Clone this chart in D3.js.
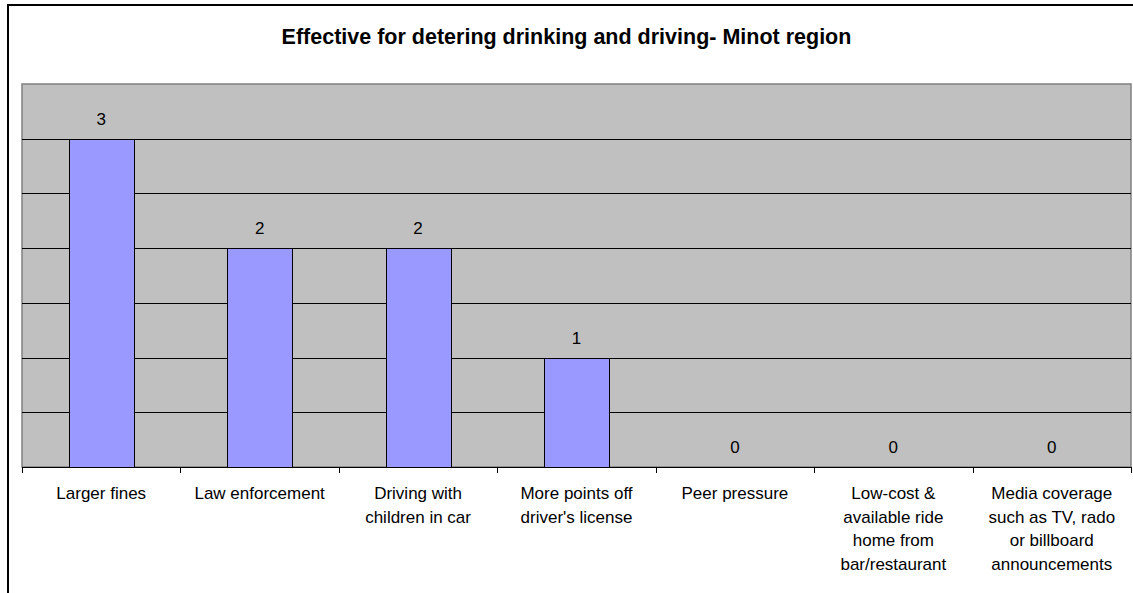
<!DOCTYPE html>
<html><head><meta charset="utf-8">
<script src="https://cdn.jsdelivr.net/npm/d3@7"></script>
<style>html,body{margin:0;padding:0;background:#fff;}svg{display:block;font-family:"Liberation Sans",Arial,sans-serif;}</style>
</head><body>
<script>
const title = "Effective for detering drinking and driving- Minot region";
const categories = [
  "Larger fines",
  "Law enforcement",
  "Driving with\nchildren in car",
  "More points off\ndriver's license",
  "Peer pressure",
  "Low-cost &\navailable ride\nhome from\nbar/restaurant",
  "Media coverage\nsuch as TV, rado\nor billboard\nannouncements"
];
const values = [3, 2, 2, 1, 0, 0, 0];
const yMax = 3.5;
const gridTicks = [0.5, 1, 1.5, 2, 2.5, 3];

const W = 1133, H = 593;
const plot = {left: 22, top: 84, right: 1131, bottom: 467};

const svg = d3.select("body").append("svg").attr("width", W).attr("height", H);

// outer chart border
svg.append("rect").attr("x", 8).attr("y", 5).attr("width", W + 20).attr("height", H + 20)
  .attr("fill", "#fff").attr("stroke", "#000").attr("stroke-width", 2);

svg.append("text").attr("x", W / 2).attr("y", 44).attr("text-anchor", "middle")
  .attr("font-size", 21.5).attr("font-weight", "bold").attr("fill", "#000").text(title);

const x = d3.scaleBand().domain(categories).range([plot.left, plot.right])
  .paddingInner(0.59).paddingOuter(0.295);
const y = d3.scaleLinear().domain([0, yMax]).range([plot.bottom, plot.top]);

// plot area
svg.append("rect").attr("x", plot.left).attr("y", plot.top)
  .attr("width", plot.right - plot.left).attr("height", plot.bottom - plot.top)
  .attr("fill", "#C0C0C0").attr("stroke", "#808080").attr("stroke-width", 1.5);

// gridlines
svg.append("g").selectAll("line").data(gridTicks).join("line")
  .attr("x1", plot.left).attr("x2", plot.right)
  .attr("y1", d => Math.round(y(d)) + 0.5).attr("y2", d => Math.round(y(d)) + 0.5)
  .attr("stroke", "#000").attr("stroke-width", 1);

// bars
svg.append("g").selectAll("rect").data(values).join("rect")
  .attr("x", (d, i) => Math.round(x(categories[i])) + 0.5)
  .attr("y", d => Math.round(y(d)) + 0.5)
  .attr("width", Math.round(x.bandwidth()))
  .attr("height", d => Math.round(y(0)) - Math.round(y(d)))
  .attr("fill", "#9999FF").attr("stroke", "#000").attr("stroke-width", 1)
  .style("display", d => d > 0 ? null : "none");

// data labels
svg.append("g").selectAll("text").data(values).join("text")
  .attr("x", (d, i) => x(categories[i]) + x.bandwidth() / 2)
  .attr("y", d => y(d) - 14)
  .attr("text-anchor", "middle").attr("font-size", 17).attr("fill", "#000")
  .text(d => d);

// x axis
const step = x.step();
const boundaries = d3.range(categories.length + 1).map(i => plot.left + i * step);
svg.append("line").attr("x1", plot.left).attr("x2", plot.right)
  .attr("y1", plot.bottom + 0.5).attr("y2", plot.bottom + 0.5).attr("stroke", "#000").attr("stroke-width", 1);
svg.append("g").selectAll("line").data(boundaries).join("line")
  .attr("x1", d => Math.round(d) + 0.5).attr("x2", d => Math.round(d) + 0.5)
  .attr("y1", plot.bottom).attr("y2", plot.bottom + 6)
  .attr("stroke", "#000").attr("stroke-width", 1);

const lab = svg.append("g").selectAll("text").data(categories).join("text")
  .attr("x", d => x(d) + x.bandwidth() / 2)
  .attr("y", 499)
  .attr("text-anchor", "middle").attr("font-size", 17).attr("fill", "#000");
lab.selectAll("tspan").data(d => d.split("\n")).join("tspan")
  .attr("x", function () { return this.parentNode.getAttribute("x"); })
  .attr("dy", (d, i) => i === 0 ? 0 : 23.5)
  .text(d => d);
</script>
</body></html>
